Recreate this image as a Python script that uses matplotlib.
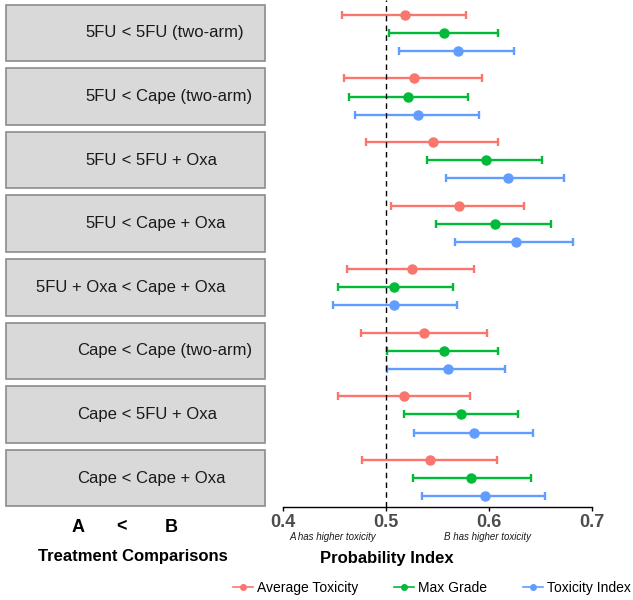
import numpy as np
import matplotlib
matplotlib.use("Agg")
import matplotlib.pyplot as plt
from matplotlib.patches import Rectangle
from matplotlib.lines import Line2D

plt.rcParams['font.family'] = ['Liberation Sans', 'DejaVu Sans']

# ---- data ----
comparisons = ["5FU < 5FU (two-arm)", "5FU < Cape (two-arm)", "5FU < 5FU + Oxa",
               "5FU < Cape + Oxa", "5FU + Oxa < Cape + Oxa", "Cape < Cape (two-arm)",
               "Cape < 5FU + Oxa", "Cape < Cape + Oxa"]
series = ["Average Toxicity", "Max Grade", "Toxicity Index"]
colors = ["#F8766D", "#00BA38", "#619CFF"]

avg_est = [0.518, 0.527, 0.546, 0.571, 0.525, 0.537, 0.517, 0.543]
avg_lo = [0.457, 0.459, 0.481, 0.505, 0.462, 0.476, 0.453, 0.477]
avg_hi = [0.578, 0.593, 0.609, 0.634, 0.585, 0.598, 0.582, 0.608]

max_est = [0.556, 0.521, 0.597, 0.606, 0.508, 0.556, 0.573, 0.583]
max_lo = [0.503, 0.464, 0.540, 0.549, 0.453, 0.501, 0.517, 0.526]
max_hi = [0.609, 0.580, 0.651, 0.660, 0.565, 0.609, 0.628, 0.641]

tox_est = [0.570, 0.531, 0.618, 0.626, 0.508, 0.560, 0.585, 0.596]
tox_lo = [0.513, 0.470, 0.558, 0.567, 0.449, 0.501, 0.527, 0.535]
tox_hi = [0.624, 0.590, 0.673, 0.682, 0.569, 0.616, 0.643, 0.654]

estimates = [avg_est, max_est, tox_est]
lowers = [avg_lo, max_lo, tox_lo]
uppers = [avg_hi, max_hi, tox_hi]

W, H = 633, 600
fig = plt.figure(figsize=(W / 100, H / 100), dpi=100)

ylim = (7.456, -0.519)
bottom = 1 - 507 / H

# ---- forest panel ----
ax = fig.add_axes([283 / W, bottom, 309 / W, 1 - bottom])
rows = np.arange(len(comparisons))
offsets = [-0.285, 0.0, 0.285]
for est, lo, hi, col, off, name in zip(estimates, lowers, uppers, colors, offsets, series):
    est = np.array(est)
    err = [est - np.array(lo), np.array(hi) - est]
    ax.errorbar(est, rows + off, xerr=err, fmt='o', color=col, ecolor=col,
                elinewidth=1.7, capsize=3, capthick=1.7, markersize=6.5, label=name)

ax.axvline(0.5, color='black', linestyle='--', linewidth=1, dashes=(4, 3))
ax.set_xlim(0.4, 0.7)
ax.set_ylim(*ylim)
ax.set_yticks([])
for s in ['top', 'right', 'left']:
    ax.spines[s].set_visible(False)
ax.spines['bottom'].set_linewidth(1)
ax.set_xticks([0.4, 0.5, 0.6, 0.7])
ax.set_xticklabels(['0.4', '0.5', '0.6', '0.7'], fontsize=13, fontweight='bold', color='#4D4D4D')
ax.tick_params(axis='x', length=3, width=1, pad=2)
ax.patch.set_alpha(0)

# ---- left label boxes ----
axl = fig.add_axes([0, bottom, 270 / W, 1 - bottom])
axl.set_xlim(0, 270)
axl.set_ylim(*ylim)
axl.axis('off')
box_h = 56.6 / 63.57
for i, label in enumerate(comparisons):
    axl.add_patch(Rectangle((5.7, i - box_h / 2), 259.3, box_h, facecolor='#D9D9D9',
                            edgecolor='#8C8C8C', linewidth=1.2))
    a, b = label.split(" < ")
    axl.text(117, i, a, ha='right', va='center', fontsize=12, color='#1A1A1A')
    axl.text(117, i, " < " + b, ha='left', va='center', fontsize=12, color='#1A1A1A')

# ---- text below ----
fig.text(78 / W, 1 - 527 / H, "A", ha='center', va='center', fontsize=13, fontweight='bold')
fig.text(121 / W, 1 - 527 / H, "<", ha='center', va='center', fontsize=13, fontweight='bold')
fig.text(171 / W, 1 - 527 / H, "B", ha='center', va='center', fontsize=13, fontweight='bold')
fig.text(133 / W, 1 - 557 / H, "Treatment Comparisons", ha='center', va='center',
         fontsize=12, fontweight='bold')
fig.text(333 / W, 1 - 537 / H, "A has higher toxicity", ha='center', va='center',
         fontsize=7, style='italic', color='#1A1A1A')
fig.text(487 / W, 1 - 537 / H, "B has higher toxicity", ha='center', va='center',
         fontsize=7, style='italic', color='#1A1A1A')
fig.text(387 / W, 1 - 559 / H, "Probability Index", ha='center', va='center',
         fontsize=12, fontweight='bold')

handles = [Line2D([0], [0], color=c, marker='o', markersize=4, linewidth=1.2) for c in colors]
fig.legend(handles, series, loc='center', bbox_to_anchor=(432 / W, 1 - 588 / H), ncol=3,
           frameon=False, fontsize=10, handlelength=1.4, handletextpad=0.3,
           columnspacing=2.6)

fig.savefig("out.png", dpi=100)
